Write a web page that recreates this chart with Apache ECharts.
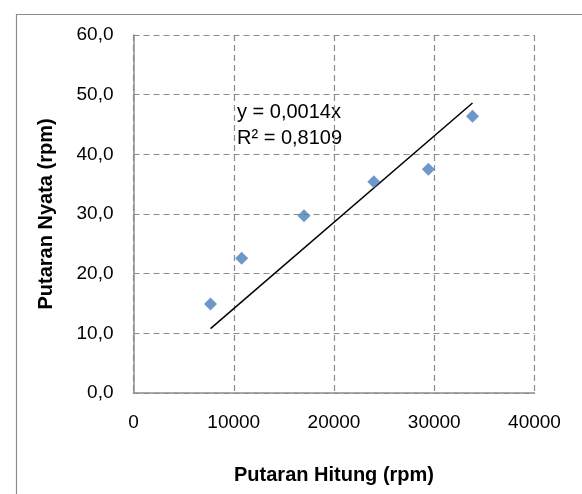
<!DOCTYPE html>
<html>
<head>
<meta charset="utf-8">
<script src="https://cdn.jsdelivr.net/npm/echarts@6/dist/echarts.min.js"></script>
<style>html,body{margin:0;padding:0;background:#fff;}#c{width:582px;height:494px;}</style>
</head>
<body>
<div id="c"></div>
<script>
var putaranHitung = [7681, 10783, 17008, 23970, 29416, 33815];
var putaranNyata = [14.9, 22.6, 29.7, 35.4, 37.5, 46.4];
var trendX = [7681, 33815];
var trendY = [10.8, 48.6];
var equationLines = ['y = 0,0014x', 'R² = 0,8109'];
var xTitle = 'Putaran Hitung (rpm)';
var yTitle = 'Putaran Nyata (rpm)';

var FONT = 'Liberation Sans';
var chart = echarts.init(document.getElementById('c'), null, {renderer: 'canvas'});
var option = {
  animation: false,
  backgroundColor: '#fff',
  grid: {left: 133.5, top: 35, width: 401, height: 358, containLabel: false},
  xAxis: {
    type: 'value', min: 0, max: 40000, interval: 10000,
    name: xTitle, nameLocation: 'middle', nameGap: 72,
    nameTextStyle: {fontFamily: FONT, fontSize: 20, fontWeight: 'bold', color: '#000'},
    axisLine: {show: true, lineStyle: {color: '#8c8c8c', width: 1.5}},
    axisTick: {show: false},
    axisLabel: {fontFamily: FONT, fontSize: 19, color: '#000', margin: 20,
      formatter: function (v) { return String(v); }},
    splitLine: {show: true, lineStyle: {color: '#8c8c8c', type: [6, 4], width: 1.2}}
  },
  yAxis: {
    type: 'value', min: 0, max: 60, interval: 10,
    name: yTitle, nameLocation: 'middle', nameGap: 77,
    nameTextStyle: {fontFamily: FONT, fontSize: 20, fontWeight: 'bold', color: '#000'},
    axisLine: {show: true, lineStyle: {color: '#8c8c8c', width: 1.5}},
    axisTick: {show: false},
    axisLabel: {fontFamily: FONT, fontSize: 19, color: '#000', margin: 20,
      formatter: function (v) { return v.toFixed(1).replace('.', ','); }},
    splitLine: {show: true, lineStyle: {color: '#8c8c8c', type: [6, 4], width: 1.2}}
  },
  series: [
    {
      type: 'line',
      data: trendX.map(function (x, i) { return [x, trendY[i]]; }),
      showSymbol: false, symbol: 'none',
      lineStyle: {color: '#000', width: 1.5},
      z: 2
    },
    {
      type: 'scatter',
      data: putaranHitung.map(function (x, i) { return [x, putaranNyata[i]]; }),
      symbol: 'diamond', symbolSize: 13,
      itemStyle: {color: '#4a7ebb'},
      z: 3
    }
  ],
  graphic: [
    {type: 'rect', left: 14, top: 12, shape: {width: 600, height: 520},
     style: {fill: 'none', stroke: '#8c8c8c', lineWidth: 1.2}, silent: true, z: -1},
    {type: 'text', left: 237, top: 99,
     style: {text: equationLines.join('\n'), fontFamily: FONT, fontSize: 20, lineHeight: 26, fill: '#000'}}
  ]
};
chart.setOption(option);
</script>
</body>
</html>
